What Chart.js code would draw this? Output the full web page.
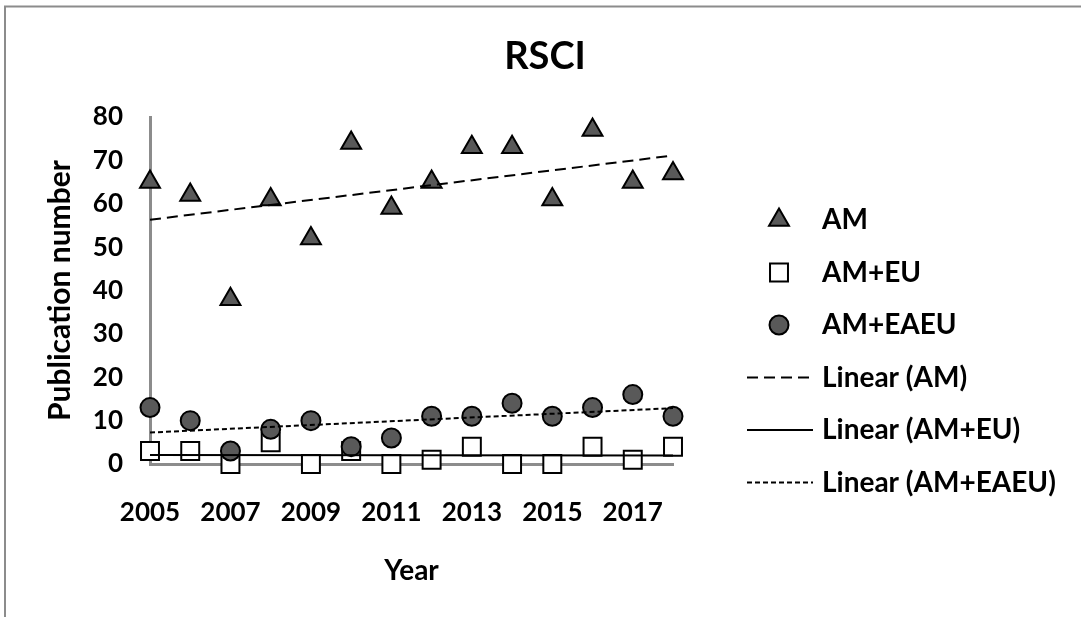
<!DOCTYPE html>
<html>
<head>
<meta charset="utf-8">
<script src="https://cdn.jsdelivr.net/npm/chart.js@4.4.1/dist/chart.umd.min.js"></script>
<style>
  html, body { margin: 0; padding: 0; background: #ffffff; }
  #wrap { position: relative; width: 1081px; height: 617px; }
  canvas { display: block; }
</style>
</head>
<body>
<div id="wrap"><canvas id="chart" width="1081" height="617"></canvas></div>
<script>
// ---- data ----
const years = [2005, 2006, 2007, 2008, 2009, 2010, 2011, 2012, 2013, 2014, 2015, 2016, 2017, 2018];
const amValues = [65, 62, 38, 61, 52, 74, 59, 65, 73, 73, 61, 77, 65, 67];
const amEuValues = [3, 3, 0, 5, 0, 3, 0, 1, 4, 0, 0, 4, 1, 4];
const amEaeuValues = [13, 10, 3, 8, 10, 4, 6, 11, 11, 14, 11, 13, 16, 11];
const xTickLabels = [2005, 2007, 2009, 2011, 2013, 2015, 2017];
const yTickValues = [0, 10, 20, 30, 40, 50, 60, 70, 80];
const seriesNames = ['AM', 'AM+EU', 'AM+EAEU'];
const trendNames = ['Linear (AM)', 'Linear (AM+EU)', 'Linear (AM+EAEU)'];
const chartTitle = 'RSCI';
const xAxisTitle = 'Year';
const yAxisTitle = 'Publication number';

// least-squares linear trend (as a spreadsheet "Linear" trendline does)
function linearTrend(xs, ys) {
  const n = xs.length;
  const mx = xs.reduce((a, b) => a + b, 0) / n;
  const my = ys.reduce((a, b) => a + b, 0) / n;
  let sxy = 0, sxx = 0;
  for (let i = 0; i < n; i++) { sxy += (xs[i] - mx) * (ys[i] - my); sxx += (xs[i] - mx) * (xs[i] - mx); }
  const m = sxy / sxx, b = my - m * mx;
  const x0 = xs[0], x1 = xs[n - 1];
  return [{ x: x0, y: m * x0 + b }, { x: x1, y: m * x1 + b }];
}
const toPoints = (vals) => years.map((x, i) => ({ x: x, y: vals[i] }));

const FONT = 'Lato, "Open Sans", "DejaVu Sans", sans-serif';
const markerFill = '#595959';

function markerDataset(label, vals, style, radius, fill, order) {
  return {
    label: label, data: toPoints(vals), showLine: false, order: order, clip: false,
    pointStyle: style, pointRadius: radius, pointHoverRadius: radius,
    pointBackgroundColor: fill, pointBorderColor: '#000000', pointBorderWidth: 2,
    backgroundColor: fill, borderColor: '#000000', borderWidth: 2
  };
}
function trendDataset(label, vals, dash, order) {
  return {
    label: label, data: linearTrend(years, vals), showLine: true, order: order, clip: false,
    borderColor: '#000000', borderWidth: 2, borderDash: dash, pointRadius: 0, pointHoverRadius: 0,
    fill: false, tension: 0
  };
}

const datasets = [
  markerDataset(seriesNames[0], amValues, 'triangle', 11.5, markerFill, 6),
  markerDataset(seriesNames[1], amEuValues, 'rect', 12.7, '#ffffff', 5),
  markerDataset(seriesNames[2], amEaeuValues, 'circle', 9.5, markerFill, 4),
  trendDataset(trendNames[0], amValues, [11, 6], 3),
  trendDataset(trendNames[1], amEuValues, [], 2),
  trendDataset(trendNames[2], amEaeuValues, [5, 3], 1)
];

// frame, white background and chart title
const framePlugin = {
  id: 'frame',
  beforeDraw(chart) {
    const ctx = chart.ctx;
    ctx.save();
    ctx.fillStyle = '#ffffff';
    ctx.fillRect(0, 0, chart.width, chart.height);
    ctx.strokeStyle = '#8c8c8c';
    ctx.lineWidth = 2;
    ctx.beginPath();
    ctx.moveTo(5, chart.height);
    ctx.lineTo(5, 6.5);
    ctx.lineTo(chart.width, 6.5);
    ctx.stroke();
    ctx.fillStyle = '#000000';
    ctx.font = 'bold 38px ' + FONT;
    ctx.textAlign = 'center';
    ctx.textBaseline = 'middle';
    ctx.fillText(chartTitle, 545, 57);
    ctx.restore();
  }
};

// legend at right, drawn from the datasets' own styles
const sideLegend = {
  id: 'sideLegend',
  afterDraw(chart) {
    const ctx = chart.ctx;
    const top = 220, step = 52.5, markerX = 779, lineX0 = 747, lineX1 = 813, textX = 822;
    ctx.save();
    chart.data.datasets.forEach((ds, i) => {
      const y = top + i * step;
      ctx.save();
      if (ds.showLine) {
        ctx.strokeStyle = ds.borderColor;
        ctx.lineWidth = ds.borderWidth;
        ctx.setLineDash(ds.borderDash || []);
        ctx.beginPath();
        ctx.moveTo(lineX0, y);
        ctx.lineTo(lineX1, y);
        ctx.stroke();
      } else {
        ctx.fillStyle = ds.pointBackgroundColor;
        ctx.strokeStyle = ds.pointBorderColor;
        ctx.lineWidth = ds.pointBorderWidth;
        Chart.helpers.drawPoint(ctx, { pointStyle: ds.pointStyle, radius: ds.pointRadius, borderWidth: ds.pointBorderWidth, rotation: 0 }, markerX, y);
      }
      ctx.restore();
      ctx.fillStyle = '#000000';
      ctx.font = 'bold 28px ' + FONT;
      ctx.textBaseline = 'middle';
      ctx.textAlign = 'left';
      ctx.fillText(ds.label, textX, y);
    });
    ctx.restore();
  }
};

function build() {
  new Chart(document.getElementById('chart'), {
    type: 'scatter',
    data: { datasets: datasets },
    plugins: [framePlugin, sideLegend],
    options: {
      responsive: false,
      animation: false,
      devicePixelRatio: 1,
      layout: { padding: { left: 0, right: 408, top: 117, bottom: 0 } },
      plugins: {
        legend: { display: false },
        tooltip: { enabled: false },
        title: { display: false }
      },
      scales: {
        x: {
          type: 'linear', min: years[0], max: years[years.length - 1],
          afterBuildTicks(scale) { scale.ticks = xTickLabels.map(v => ({ value: v })); },
          afterFit(scale) { scale.height = 153; },
          grid: { display: false, drawTicks: false },
          border: { display: true, color: '#8c8c8c', width: 3 },
          ticks: {
            color: '#000000', padding: 33, maxRotation: 0, autoSkip: false,
            font: { family: FONT, size: 26, weight: 'bold' },
            callback: (v) => String(v)
          },
          title: {
            display: true, text: xAxisTitle, color: '#000000',
            font: { family: FONT, size: 28, weight: 'bold' },
            padding: { top: 0, bottom: 29 }
          }
        },
        y: {
          type: 'linear', min: 0, max: 80,
          afterBuildTicks(scale) { scale.ticks = yTickValues.map(v => ({ value: v })); },
          afterFit(scale) { scale.width = 150; },
          grid: { display: false, drawTicks: false },
          border: { display: true, color: '#8c8c8c', width: 3 },
          ticks: {
            color: '#000000', padding: 27,
            font: { family: FONT, size: 26, weight: 'bold' },
            callback: (v) => String(v)
          },
          title: {
            display: true, text: yAxisTitle, color: '#000000',
            font: { family: FONT, size: 30, weight: 'bold' },
            padding: { top: 42, bottom: 0 }
          }
        }
      }
    }
  });
}

if (document.fonts && document.fonts.load) {
  Promise.all([
    document.fonts.load('bold 26px Lato'),
    document.fonts.load('bold 38px Lato')
  ]).then(build, build);
} else {
  build();
}
</script>
</body>
</html>
